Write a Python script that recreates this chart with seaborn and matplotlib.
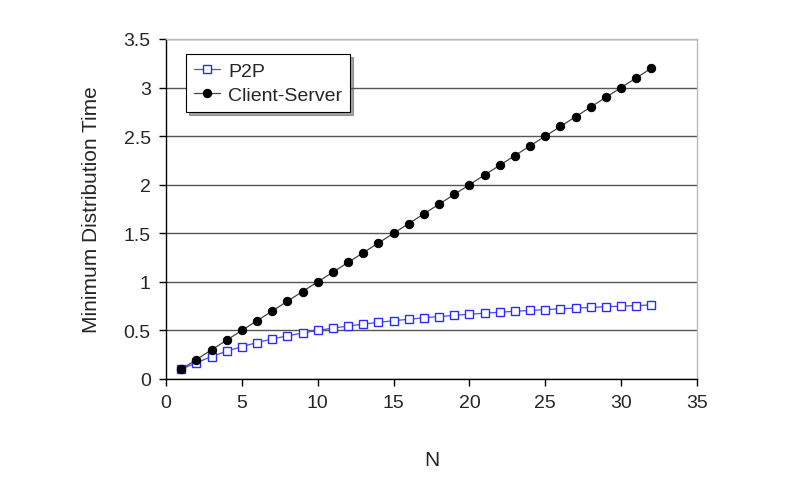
import numpy as np
import matplotlib.pyplot as plt
import seaborn as sns
import pandas as pd

# values
n_values = list(range(1, 33))
p2p_time = [0.100, 0.167, 0.231, 0.286, 0.333, 0.375, 0.412, 0.444, 0.474, 0.500,
            0.524, 0.545, 0.565, 0.583, 0.600, 0.615, 0.630, 0.643, 0.655, 0.667,
            0.677, 0.688, 0.697, 0.706, 0.714, 0.722, 0.730, 0.737, 0.744, 0.750,
            0.756, 0.762]
cs_time = [0.1, 0.2, 0.3, 0.4, 0.5, 0.6, 0.7, 0.8, 0.9, 1.0,
           1.1, 1.2, 1.3, 1.4, 1.5, 1.6, 1.7, 1.8, 1.9, 2.0,
           2.1, 2.2, 2.3, 2.4, 2.5, 2.6, 2.7, 2.8, 2.9, 3.0,
           3.1, 3.2]

sns.set_style("white")
plt.rcParams['font.family'] = ['Liberation Sans', 'DejaVu Sans']

df = pd.DataFrame({'N': n_values, 'P2P': p2p_time, 'Client-Server': cs_time})

fig = plt.figure(figsize=(8.0, 4.81), dpi=100)
ax = fig.add_axes([166 / 800, 1 - 380 / 481, (697 - 166) / 800, (380 - 40) / 481])

sns.lineplot(data=df, x='N', y='P2P', ax=ax, color='#4d4dff', linewidth=0.9,
             marker='s', markersize=5.5, markerfacecolor='white',
             markeredgecolor='#2b2bff', markeredgewidth=1.0, label='P2P')
sns.lineplot(data=df, x='N', y='Client-Server', ax=ax, color='#444444', linewidth=0.9,
             marker='o', markersize=6, markerfacecolor='black',
             markeredgecolor='black', label='Client-Server')

ax.set_xlim(0, 35)
ax.set_ylim(0, 3.5)
ax.set_xticks(np.arange(0, 36, 5))
ax.set_yticks(np.arange(0, 3.6, 0.5))
ax.set_yticklabels(['0', '0.5', '1', '1.5', '2', '2.5', '3', '3.5'])
ax.yaxis.grid(True, color='#555555', linewidth=1.0)
ax.set_axisbelow(True)

for side in ['top', 'right']:
    ax.spines[side].set_color('#bbbbbb')
    ax.spines[side].set_linewidth(1.0)
for side in ['left', 'bottom']:
    ax.spines[side].set_color('black')
    ax.spines[side].set_linewidth(1.0)

ax.tick_params(axis='both', direction='out', length=5, width=1, color='black',
               labelsize=14, pad=6, bottom=True, left=True)

ax.set_xlabel('N', fontsize=15, labelpad=28)
ax.set_ylabel('Minimum Distribution Time', fontsize=15, labelpad=16)

leg = ax.legend(loc='upper left', bbox_to_anchor=(0.038, 0.955), fontsize=14,
                frameon=True, fancybox=False, shadow=True, borderpad=0.4,
                handlelength=1.35, labelspacing=0.35, borderaxespad=0,
                handletextpad=0.4)
leg.get_frame().set_edgecolor('black')
leg.get_frame().set_linewidth(0.8)

fig.savefig('out.png', dpi=100)
